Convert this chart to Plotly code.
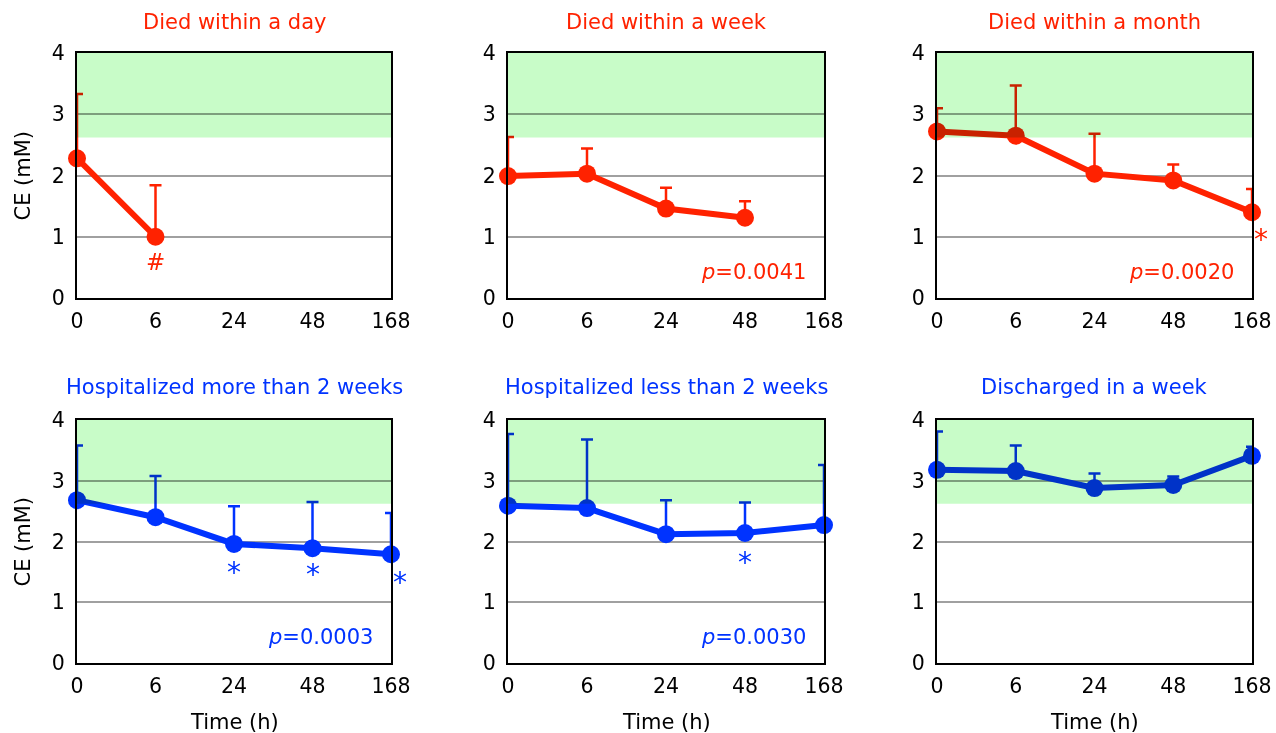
import plotly.graph_objects as go

# ---------------- data ----------------
times = ["0", "6", "24", "48", "168"]

titles = ["Died within a day", "Died within a week", "Died within a month",
          "Hospitalized more than 2 weeks", "Hospitalized less than 2 weeks", "Discharged in a week"]

day_mean = [2.28, 1.00]
day_upper = [3.33, 1.84]
week_mean = [1.99, 2.03, 1.46, 1.31]
week_upper = [2.63, 2.44, 1.80, 1.58]
month_mean = [2.72, 2.65, 2.03, 1.92, 1.40]
month_upper = [3.10, 3.47, 2.68, 2.18, 1.78]
hosp_more_mean = [2.68, 2.40, 1.96, 1.89, 1.79]
hosp_more_upper = [3.58, 3.08, 2.58, 2.65, 2.47]
hosp_less_mean = [2.59, 2.55, 2.12, 2.14, 2.27]
hosp_less_upper = [3.77, 3.68, 2.68, 2.64, 3.26]
discharged_mean = [3.18, 3.16, 2.88, 2.93, 3.41]
discharged_upper = [3.81, 3.58, 3.12, 3.07, 3.56]

means = [day_mean, week_mean, month_mean, hosp_more_mean, hosp_less_mean, discharged_mean]
uppers = [day_upper, week_upper, month_upper, hosp_more_upper, hosp_less_upper, discharged_upper]

p_values = [None, "0.0041", "0.0020", "0.0003", "0.0030", None]

# significance marks: (panel index, time, symbol, y)
marks = [(0, "6", "#", 0.58), (2, "168", "*", 0.96), (3, "24", "*", 1.49),
         (3, "48", "*", 1.45), (3, "168", "*", 1.33), (4, "48", "*", 1.66)]

normal_low, normal_high = 2.62, 4.0

RED = "#FF2200"
BLUE = "#0033FF"
colors = [RED, RED, RED, BLUE, BLUE, BLUE]

# ---------------- layout ----------------
W, H = 1276, 733
xdom = [[77 / W, 391 / W], [508 / W, 824 / W], [937 / W, 1252 / W]]
ydom = [[1 - 298 / H, 1 - 53 / H], [1 - 663 / H, 1 - 420 / H]]
FONT = "Verdana, DejaVu Sans, sans-serif"

fig = go.Figure()
annotations = []
shapes = []

for i in range(6):
    r, c = divmod(i, 3)
    n = i + 1
    xa = "x" if n == 1 else f"x{n}"
    ya = "y" if n == 1 else f"y{n}"
    m = means[i]
    up = uppers[i]
    fig.add_trace(go.Scatter(
        x=times[:len(m)], y=m, xaxis=xa, yaxis=ya, mode="lines+markers",
        line=dict(color=colors[i], width=6),
        marker=dict(color=colors[i], size=18),
        error_y=dict(type="data", symmetric=False,
                     array=[u - v for u, v in zip(up, m)],
                     arrayminus=[0] * len(m),
                     color=colors[i], thickness=2.5, width=6),
        showlegend=False, hoverinfo="skip", cliponaxis=False,
    ))
    axx = dict(domain=xdom[c], anchor=ya, type="category", categoryorder="array",
               categoryarray=times, range=[0, 4], showgrid=False, zeroline=False,
               showline=True, mirror=True, linecolor="black", linewidth=2,
               ticks="", ticklabelstandoff=3, automargin=False,
               tickfont=dict(family=FONT, size=20.5, color="black"))
    axy = dict(domain=ydom[r], anchor=xa, range=[0, 4], dtick=1, tick0=0,
               showgrid=True, gridcolor="#A0A0A0", gridwidth=1.5, zeroline=False,
               showline=True, mirror=True, linecolor="black", linewidth=2,
               ticks="", ticklabelstandoff=6, automargin=False,
               tickfont=dict(family=FONT, size=20.5, color="black"))
    fig.layout["xaxis" if n == 1 else f"xaxis{n}"] = axx
    fig.layout["yaxis" if n == 1 else f"yaxis{n}"] = axy

    shapes.append(dict(type="rect", xref=f"{xa} domain", yref=ya, x0=0, x1=1,
                       y0=normal_low, y1=normal_high, fillcolor="#C8FCC8",
                       line=dict(width=0), layer="above"))

    xc = (xdom[c][0] + xdom[c][1]) / 2
    title_y = 1 - 22 / H if r == 0 else 1 - 387 / H
    annotations.append(dict(text=titles[i], x=xc, y=title_y, xref="paper", yref="paper",
                            showarrow=False, xanchor="center", yanchor="middle",
                            font=dict(family=FONT, size=21, color=colors[i])))
    if p_values[i]:
        annotations.append(dict(text=f"<i>p</i>={p_values[i]}", x=0.948, y=0.42,
                                xref=f"{xa} domain", yref=ya, showarrow=False,
                                xanchor="right", yanchor="middle",
                                font=dict(family=FONT, size=21, color=colors[i])))
    if c == 0:
        yc = (ydom[r][0] + ydom[r][1]) / 2
        annotations.append(dict(text="CE (mM)", x=22 / W, y=yc, xref="paper", yref="paper",
                                showarrow=False, textangle=-90, xanchor="center", yanchor="middle",
                                font=dict(family=FONT, size=21, color="black")))
    if r == 1:
        annotations.append(dict(text="Time (h)", x=xc, y=1 - 722 / H, xref="paper", yref="paper",
                                showarrow=False, xanchor="center", yanchor="middle",
                                font=dict(family=FONT, size=21, color="black")))

for (pi, t, sym, yv) in marks:
    n = pi + 1
    xa = "x" if n == 1 else f"x{n}"
    ya = "y" if n == 1 else f"y{n}"
    shift = 9 if t == "168" else 0
    annotations.append(dict(text=sym, x=times.index(t), y=yv, xref=xa, yref=ya,
                            showarrow=False, xshift=shift,
                            xanchor="center", yanchor="middle",
                            font=dict(family=FONT, size=28 if sym == "*" else 23,
                                      color=colors[pi])))

fig.update_layout(width=W, height=H, margin=dict(l=0, r=0, t=0, b=0, pad=0, autoexpand=False),
                  paper_bgcolor="white", plot_bgcolor="white",
                  shapes=shapes, annotations=annotations,
                  font=dict(family=FONT))

post = ("document.body.style.margin='0';document.body.style.overflow='hidden';"
        "var s=document.createElement('style');"
        "s.textContent='.layer-above .shapelayer{mix-blend-mode:multiply;}"
        " .layer-above .shapelayer path{mix-blend-mode:multiply;}';"
        "document.head.appendChild(s);")
fig.write_html("out.html", post_script=post, config={"displayModeBar": False})
